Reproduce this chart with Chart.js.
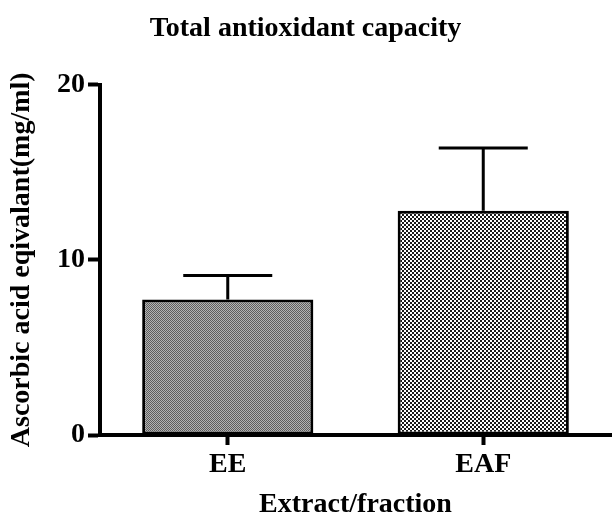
<!DOCTYPE html>
<html>
<head>
<meta charset="utf-8">
<script src="https://cdn.jsdelivr.net/npm/chart.js@4/dist/chart.umd.min.js"></script>
<style>
  html, body { margin: 0; padding: 0; background: #fff; }
  #wrap { position: relative; width: 614px; height: 517px; }
</style>
</head>
<body>
<div id="wrap"><canvas id="tacChart"></canvas></div>
<script>
  // =====
  // Data
  // =====
  const categories = ["EE", "EAF"];
  const meanValues = [7.74, 12.8];
  const sdValues = [1.36, 3.58];
  const yTicks = [0, 10, 20];

  const FONT = "'Liberation Serif', 'Times New Roman', serif";

  // ========
  // Patterns
  // ========
  const makePattern = (size, draw) => {
    const c = document.createElement("canvas");
    c.width = size;
    c.height = size;
    draw(c.getContext("2d"));
    return c.getContext("2d").createPattern(c, "repeat");
  };

  // EE: fine grey dither
  const greyDither = makePattern(2, (g) => {
    g.fillStyle = "#b4b4b4";
    g.fillRect(0, 0, 2, 2);
    g.fillStyle = "#5e5e5e";
    g.fillRect(0, 0, 1, 1);
    g.fillRect(1, 1, 1, 1);
  });

  // EAF: black / white checkerboard
  const checker = makePattern(4, (g) => {
    g.fillStyle = "#ffffff";
    g.fillRect(0, 0, 4, 4);
    g.fillStyle = "#1a1a1a";
    g.fillRect(0, 0, 2, 2);
    g.fillRect(2, 2, 2, 2);
  });

  // ==========
  // Error bars
  // ==========
  const errorBarPlugin = {
    id: "errorBars",
    afterDatasetsDraw(chart) {
      const { ctx, scales } = chart;
      const meta = chart.getDatasetMeta(0);
      ctx.save();
      ctx.strokeStyle = "#000";
      ctx.lineWidth = 3;
      meta.data.forEach((bar, i) => {
        const yTop = scales.y.getPixelForValue(meanValues[i] + sdValues[i]);
        const yBase = scales.y.getPixelForValue(meanValues[i]);
        const half = bar.width * 0.26;
        ctx.beginPath();
        ctx.moveTo(bar.x, yBase);
        ctx.lineTo(bar.x, yTop);
        ctx.moveTo(bar.x - half, yTop);
        ctx.lineTo(bar.x + half, yTop);
        ctx.stroke();
      });
      ctx.restore();
    },
  };

  // =====
  // Chart
  // =====
  new Chart(document.getElementById("tacChart"), {
    type: "bar",
    data: {
      labels: categories,
      datasets: [
        {
          data: meanValues,
          backgroundColor: [greyDither, checker],
          borderColor: "#000",
          borderWidth: 3,
          borderSkipped: false,
          categoryPercentage: 1,
          barPercentage: 0.67,
        },
      ],
    },
    options: {
      responsive: true,
      maintainAspectRatio: false,
      animation: false,
      layout: { padding: { left: 0, right: 3, top: 0, bottom: 0 } },
      plugins: {
        legend: { display: false },
        tooltip: { enabled: false },
        title: {
          display: true,
          text: "Total antioxidant capacity",
          color: "#000",
          font: { family: FONT, size: 28, weight: "bold", lineHeight: 1.2 },
          padding: { top: 12, bottom: 39 },
        },
      },
      scales: {
        x: {
          offset: true,
          afterFit: (scale) => {
            scale.height = 82;
          },
          border: { display: true, color: "#000", width: 4 },
          grid: {
            offset: false,
            drawOnChartArea: false,
            drawTicks: true,
            tickLength: 10,
            tickWidth: 4,
            tickColor: "#000",
          },
          ticks: {
            color: "#000",
            padding: 3,
            font: { family: FONT, size: 28, weight: "bold" },
          },
          title: {
            display: true,
            text: "Extract/fraction",
            color: "#000",
            font: { family: FONT, size: 28, weight: "bold", lineHeight: 0.85 },
            padding: { top: 0, bottom: 0 },
          },
        },
        y: {
          min: yTicks[0],
          max: yTicks[yTicks.length - 1],
          afterFit: (scale) => {
            scale.width = 100;
          },
          afterBuildTicks: (scale) => {
            scale.ticks = yTicks.map((v) => ({ value: v }));
          },
          border: { display: true, color: "#000", width: 4 },
          grid: {
            drawOnChartArea: false,
            drawTicks: true,
            tickLength: 12,
            tickWidth: 4,
            tickColor: "#000",
          },
          ticks: {
            color: "#000",
            padding: 3,
            font: { family: FONT, size: 28, weight: "bold" },
          },
          title: {
            display: true,
            text: "Ascorbic acid eqivalant(mg/ml)",
            color: "#000",
            font: { family: FONT, size: 28, weight: "bold", lineHeight: 1.2 },
            padding: { top: 5, bottom: 0 },
          },
        },
      },
    },
    plugins: [errorBarPlugin],
  });
</script>
</body>
</html>
